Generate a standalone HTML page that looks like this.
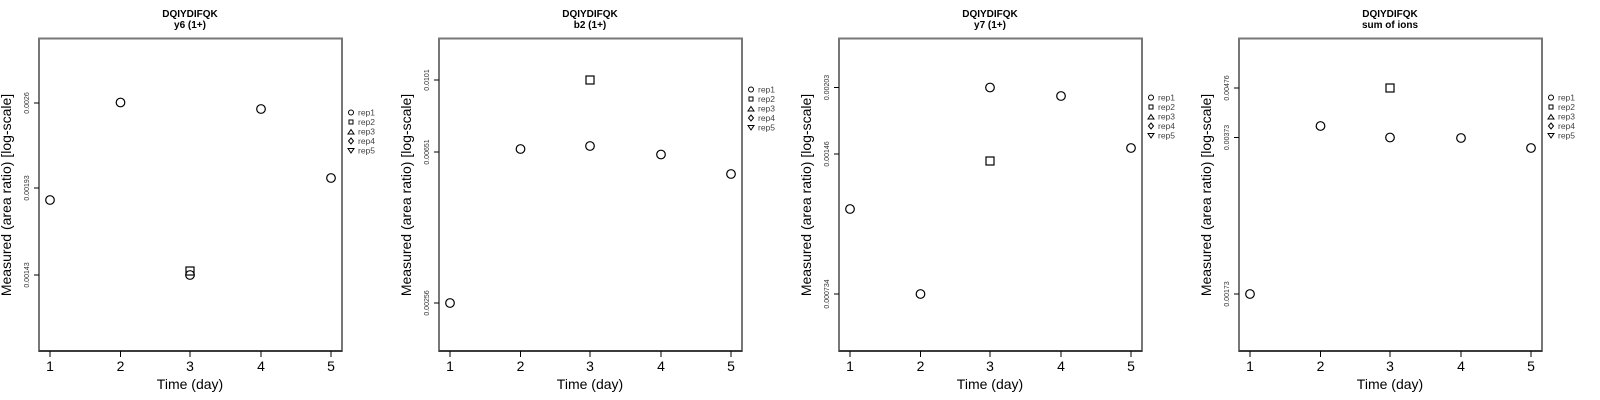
<!DOCTYPE html>
<html><head><meta charset="utf-8"><style>
html,body{margin:0;padding:0;background:#fff;width:1600px;height:400px;overflow:hidden}
svg{display:block;font-family:"Liberation Sans",Arial,sans-serif}
.box{fill:none;stroke:#777;stroke-width:2}
.ax{stroke:#000;stroke-width:1;fill:none}
.pt{fill:none;stroke:#000;stroke-width:1.2}
.lg{fill:none;stroke:#000;stroke-width:1}
.tt{font-size:10px;font-weight:bold;text-anchor:middle}
.xt{font-size:14px;text-anchor:middle}
.yt{font-size:7px;text-anchor:middle;fill:#333}
.lt{font-size:8.5px;fill:#444}
</style></head><body>
<svg width="1600" height="400" viewBox="0 0 1600 400">
<defs>
<g id="frame">
<rect class="box" x="39" y="38.5" width="303" height="312.5"/>
<line class="ax" x1="39" y1="351" x2="342" y2="351"/>
<line class="ax" x1="50" y1="351" x2="50" y2="357"/><line class="ax" x1="120.5" y1="351" x2="120.5" y2="357"/><line class="ax" x1="190" y1="351" x2="190" y2="357"/><line class="ax" x1="261" y1="351" x2="261" y2="357"/><line class="ax" x1="331" y1="351" x2="331" y2="357"/>
<text class="xt" x="50" y="371">1</text><text class="xt" x="120.5" y="371">2</text><text class="xt" x="190" y="371">3</text><text class="xt" x="261" y="371">4</text><text class="xt" x="331" y="371">5</text>
<text class="xt" x="190" y="389">Time (day)</text>
<text class="xt" transform="translate(11,195) rotate(-90)">Measured (area ratio) [log-scale]</text>
<text class="tt" x="190" y="17">DQIYDIFQK</text>
</g>
<g id="leg">
<circle class="lg" cx="351" cy="0" r="2.5"/><text class="lt" x="358" y="3">rep1</text>
<rect class="lg" x="349" y="7.5" width="4" height="4"/><text class="lt" x="358" y="12.5">rep2</text>
<path class="lg" d="M351 17 L354 21.5 L348 21.5 Z"/><text class="lt" x="358" y="22">rep3</text>
<path class="lg" d="M351 25.5 L353.5 28.5 L351 31.5 L348.5 28.5 Z"/><text class="lt" x="358" y="31.5">rep4</text>
<path class="lg" d="M348 36 L354 36 L351 40.5 Z"/><text class="lt" x="358" y="41">rep5</text>
</g>
</defs>

<!-- Panel 1 -->
<g>
<use href="#frame"/>
<text class="tt" x="190" y="28">y6 (1+)</text>
<line class="ax" x1="39" y1="103" x2="34" y2="103"/><line class="ax" x1="39" y1="188" x2="34" y2="188"/><line class="ax" x1="39" y1="275" x2="34" y2="275"/>
<text class="yt" transform="translate(29,103) rotate(-90)">0.0026</text>
<text class="yt" transform="translate(29,188) rotate(-90)">0.00193</text>
<text class="yt" transform="translate(29,275) rotate(-90)">0.00143</text>
<circle class="pt" cx="50" cy="200" r="4.3"/><circle class="pt" cx="120.5" cy="102.5" r="4.3"/><circle class="pt" cx="190" cy="275" r="4.3"/><rect class="pt" x="186" y="267" width="8" height="8"/><circle class="pt" cx="261" cy="109" r="4.3"/><circle class="pt" cx="331" cy="178" r="4.3"/>
<use href="#leg" transform="translate(0,112.5)"/>
</g>

<!-- Panel 2 -->
<g transform="translate(400,0)">
<use href="#frame"/>
<text class="tt" x="190" y="28">b2 (1+)</text>
<line class="ax" x1="39" y1="80" x2="34" y2="80"/><line class="ax" x1="39" y1="152" x2="34" y2="152"/><line class="ax" x1="39" y1="303" x2="34" y2="303"/>
<text class="yt" transform="translate(29,80) rotate(-90)">0.0101</text>
<text class="yt" transform="translate(29,152) rotate(-90)">0.00651</text>
<text class="yt" transform="translate(29,303) rotate(-90)">0.00256</text>
<circle class="pt" cx="50" cy="303" r="4.3"/><circle class="pt" cx="120.5" cy="149" r="4.3"/><circle class="pt" cx="190" cy="146" r="4.3"/><rect class="pt" x="186" y="76" width="8" height="8"/><circle class="pt" cx="261" cy="154.5" r="4.3"/><circle class="pt" cx="331" cy="174" r="4.3"/>
<use href="#leg" transform="translate(0,89.5)"/>
</g>

<!-- Panel 3 -->
<g transform="translate(800,0)">
<use href="#frame"/>
<text class="tt" x="190" y="28">y7 (1+)</text>
<line class="ax" x1="39" y1="87.5" x2="34" y2="87.5"/><line class="ax" x1="39" y1="154" x2="34" y2="154"/><line class="ax" x1="39" y1="294" x2="34" y2="294"/>
<text class="yt" transform="translate(29,87.5) rotate(-90)">0.00203</text>
<text class="yt" transform="translate(29,154) rotate(-90)">0.00146</text>
<text class="yt" transform="translate(29,294) rotate(-90)">0.000734</text>
<circle class="pt" cx="50" cy="209" r="4.3"/><circle class="pt" cx="120.5" cy="294" r="4.3"/><circle class="pt" cx="190" cy="87.5" r="4.3"/><rect class="pt" x="186" y="157" width="8" height="8"/><circle class="pt" cx="261" cy="96" r="4.3"/><circle class="pt" cx="331" cy="148" r="4.3"/>
<use href="#leg" transform="translate(0,97.5)"/>
</g>

<!-- Panel 4 -->
<g transform="translate(1200,0)">
<use href="#frame"/>
<text class="tt" x="190" y="28">sum of ions</text>
<line class="ax" x1="39" y1="88" x2="34" y2="88"/><line class="ax" x1="39" y1="137.5" x2="34" y2="137.5"/><line class="ax" x1="39" y1="294" x2="34" y2="294"/>
<text class="yt" transform="translate(29,88) rotate(-90)">0.00476</text>
<text class="yt" transform="translate(29,137.5) rotate(-90)">0.00373</text>
<text class="yt" transform="translate(29,294) rotate(-90)">0.00173</text>
<circle class="pt" cx="50" cy="294" r="4.3"/><circle class="pt" cx="120.5" cy="126" r="4.3"/><circle class="pt" cx="190" cy="137.5" r="4.3"/><rect class="pt" x="186" y="84" width="8" height="8"/><circle class="pt" cx="261" cy="138" r="4.3"/><circle class="pt" cx="331" cy="148" r="4.3"/>
<use href="#leg" transform="translate(0,97.5)"/>
</g>
</svg>
</body></html>
